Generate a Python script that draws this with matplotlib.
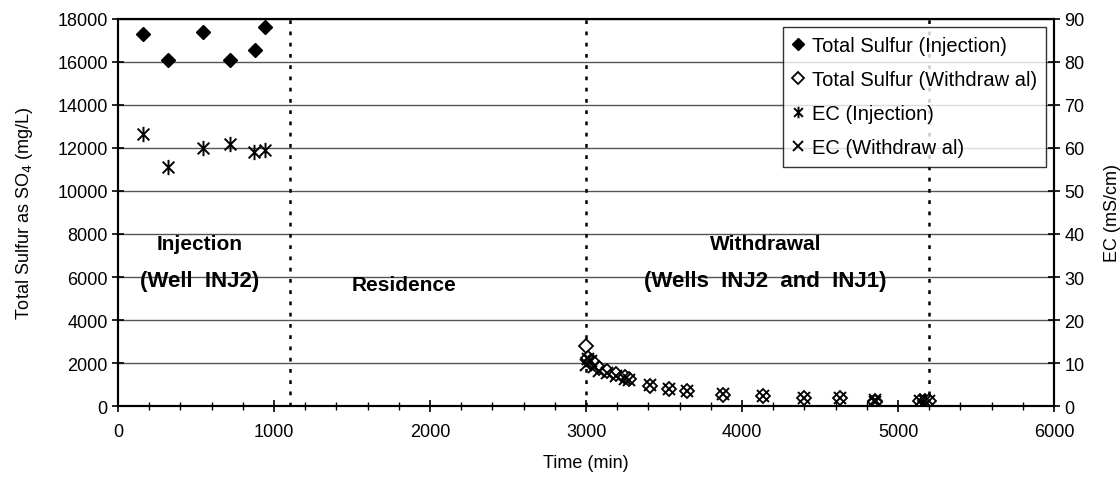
import numpy as np
import matplotlib
matplotlib.use("Agg")
import matplotlib.pyplot as plt
from matplotlib.path import Path
from matplotlib.ticker import MultipleLocator

plt.rcParams["font.family"] = ["Liberation Sans", "DejaVu Sans"]

# Injection phase (well INJ2)
t_inj = [160, 320, 545, 720, 878, 942]
sulfur_inj = [17300, 16100, 17380, 16100, 16570, 17630]
t_ec_inj = [160, 320, 545, 720, 870, 940]
ec_inj = [63.3, 55.5, 60.0, 60.9, 59.0, 59.6]

# Withdrawal phase (wells INJ2 and INJ1)
t_wd = [3000, 3010, 3030, 3050, 3080, 3135, 3195, 3250, 3275, 3410, 3530, 3645,
        3880, 4135, 4400, 4625, 4850, 4855, 5140, 5175, 5200]
sulfur_wd = [2800, 2250, 2100, 2000, 1750, 1640, 1480, 1350, 1250, 950, 790, 700,
             520, 450, 370, 360, 250, 200, 230, 230, 220]
ec_wd = [9.5, 11.0, 10.5, 9.0, 8.2, 7.6, 7.0, 6.3, 6.0, 4.8, 3.9, 3.5,
         2.7, 2.3, 1.9, 1.8, 1.4, 1.0, 1.2, 1.2, 1.1]

phase_bounds = [1100, 3000, 5200]

# asterisk = x with a vertical bar
star_path = Path(
    [(-1, -1), (1, 1), (-1, 1), (1, -1), (0, -1.3), (0, 1.3)],
    [Path.MOVETO, Path.LINETO, Path.MOVETO, Path.LINETO, Path.MOVETO, Path.LINETO],
)

fig = plt.figure(figsize=(11.2, 4.85), dpi=100)
ax = fig.add_axes([0.1054, 0.1608, 0.8357, 0.798])
ax2 = ax.twinx()

ax.set_xlim(0, 6000)
ax.set_ylim(0, 18000)
ax2.set_ylim(0, 90)
ax.xaxis.set_major_locator(MultipleLocator(1000))
ax.xaxis.set_minor_locator(MultipleLocator(200))
ax.yaxis.set_major_locator(MultipleLocator(2000))
ax2.yaxis.set_major_locator(MultipleLocator(10))

ax.grid(axis="y", color="#555555", linewidth=1.0)
ax.set_axisbelow(True)

for xb in phase_bounds:
    ax.axvline(xb, color="black", linestyle=(0, (1.5, 3)), linewidth=1.8, zorder=1)

h1, = ax.plot(t_inj, sulfur_inj, linestyle="none", marker="D", markersize=7.5,
              color="black", label="Total Sulfur (Injection)", zorder=3)
h2, = ax.plot(t_wd, sulfur_wd, linestyle="none", marker="D", markersize=7.5,
              markerfacecolor="white", markeredgecolor="black", markeredgewidth=1.3,
              label="Total Sulfur (Withdraw al)", zorder=3)
h3, = ax2.plot(t_ec_inj, ec_inj, linestyle="none", marker=star_path, markersize=11,
               markeredgecolor="black", markeredgewidth=1.4, label="EC (Injection)")
h4, = ax2.plot(t_wd, ec_wd, linestyle="none", marker="x", markersize=9,
               markeredgecolor="black", markeredgewidth=1.4, label="EC (Withdraw al)")

for a in (ax, ax2):
    for s in a.spines.values():
        s.set_linewidth(1.5)
ax.tick_params(axis="both", which="major", direction="inout", length=8, width=1.2,
               labelsize=13, colors="black")
ax.tick_params(axis="x", which="minor", direction="inout", length=6, width=1.0)
ax.tick_params(axis="x", pad=8)
ax2.tick_params(axis="y", direction="inout", length=8, width=1.2, labelsize=13)

ax.set_xlabel("Time (min)", fontsize=13, labelpad=10)
ax.set_ylabel("Total Sulfur as SO$_4$ (mg/L)", fontsize=13, labelpad=16)
ax2.set_ylabel("EC (mS/cm)", fontsize=13, labelpad=14)

# phase labels
bold = dict(fontsize=15, fontweight="bold", ha="center", va="center")
wide = dict(bold, fontsize=16)
ax.text(525, 7550, "Injection", **bold)
ax.text(525, 5850, "(Well  INJ2)", **wide)
ax.text(1835, 5650, "Residence", **bold)
ax.text(4150, 7550, "Withdrawal", **bold)
ax.text(4150, 5850, "(Wells  INJ2  and  INJ1)", **wide)

leg = ax2.legend(handles=[h1, h2, h3, h4], loc="upper right",
                 bbox_to_anchor=(0.9915, 0.979), borderaxespad=0,
                 fontsize=14.5, frameon=True, fancybox=False, edgecolor="black",
                 handlelength=0.6, handletextpad=0.4, borderpad=0.45,
                 labelspacing=0.75, markerscale=0.75)
leg.get_frame().set_linewidth(1.0)

fig.savefig("out.png", dpi=100)
